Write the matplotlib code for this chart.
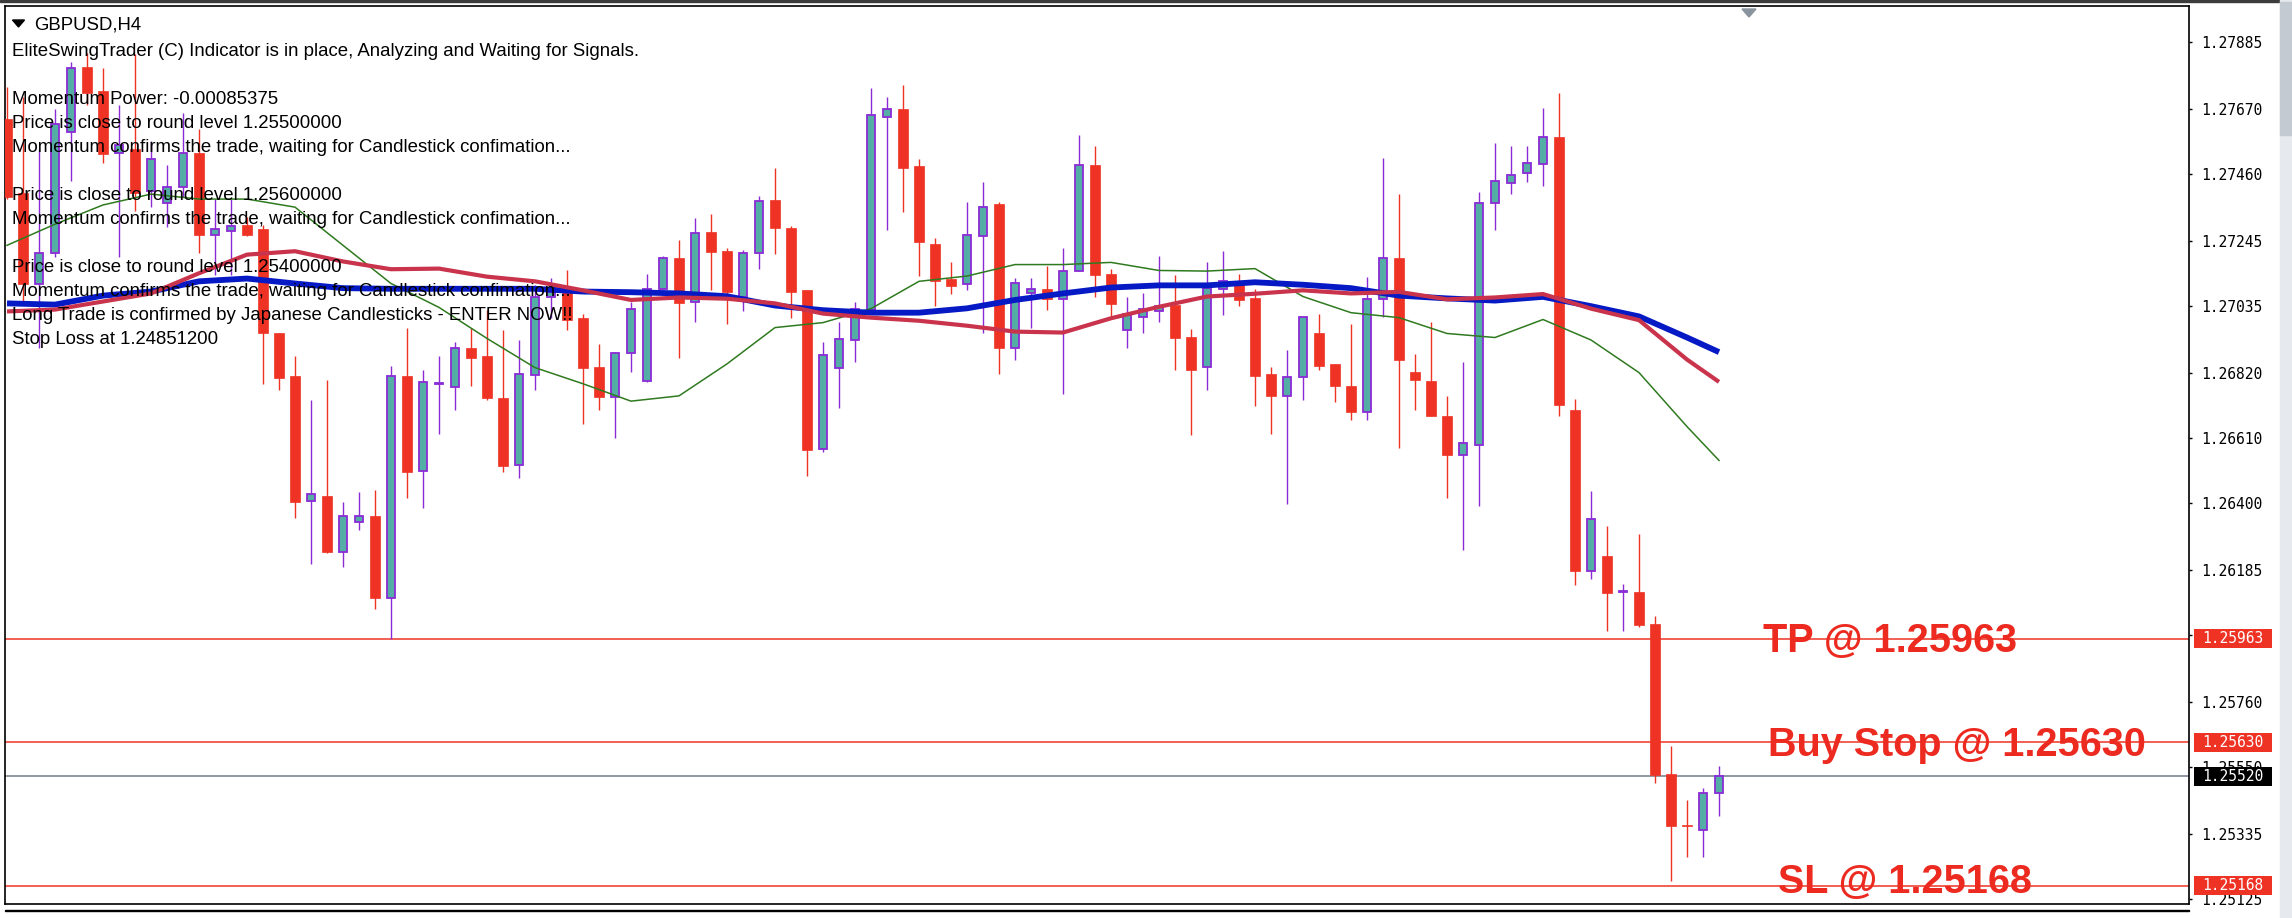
import numpy as np
import matplotlib
matplotlib.use('Agg')
import matplotlib.pyplot as plt
import matplotlib.transforms as mtransforms
from matplotlib.patches import Rectangle, Polygon

W, H = 2292, 918

# GBPUSD H4 candles (oldest first)
opens = [1.27639, 1.27399, 1.27108, 1.27205, 1.27597, 1.27807, 1.27729, 1.27529, 1.27542, 1.27406,
         1.27367, 1.27419, 1.27529, 1.27264, 1.27277, 1.27296, 1.27283, 1.26950, 1.26811, 1.26406,
         1.26423, 1.26244, 1.26341, 1.26358, 1.26095, 1.26811, 1.26503, 1.26785, 1.26774, 1.26899,
         1.26875, 1.26740, 1.26522, 1.26813, 1.27066, 1.27082, 1.26996, 1.26840, 1.26742, 1.26884,
         1.26794, 1.27089, 1.27189, 1.27050, 1.27273, 1.27214, 1.27066, 1.27205, 1.27376, 1.27286,
         1.27086, 1.26574, 1.26837, 1.26927, 1.27024, 1.27643, 1.27671, 1.27486, 1.27234, 1.27121,
         1.27108, 1.27261, 1.27363, 1.26901, 1.27076, 1.27091, 1.27057, 1.27147, 1.27490, 1.27137,
         1.26959, 1.27001, 1.27018, 1.27040, 1.26936, 1.26839, 1.27089, 1.27102, 1.27060, 1.26815,
         1.26746, 1.26807, 1.26950, 1.26848, 1.26777, 1.26694, 1.27057, 1.27189, 1.26822, 1.26795,
         1.26680, 1.26556, 1.26587, 1.27367, 1.27432, 1.27464, 1.27492, 1.27579, 1.26699, 1.26181,
         1.26230, 1.26113, 1.26115, 1.26010, 1.25527, 1.25363, 1.25347, 1.25468]
highs = [1.27742, 1.27710, 1.27542, 1.27671, 1.27820, 1.27852, 1.27801, 1.27684, 1.27846, 1.27568,
         1.27490, 1.27658, 1.27607, 1.27380, 1.27380, 1.27322, 1.27296, 1.26950, 1.26875, 1.26733,
         1.26798, 1.26403, 1.26435, 1.26442, 1.26843, 1.26966, 1.26830, 1.26875, 1.26921, 1.26966,
         1.27024, 1.26959, 1.26927, 1.27102, 1.27125, 1.27151, 1.27009, 1.26914, 1.26888, 1.27050,
         1.27138, 1.27195, 1.27247, 1.27318, 1.27331, 1.27221, 1.27216, 1.27389, 1.27480, 1.27292,
         1.27086, 1.26918, 1.26985, 1.27047, 1.27738, 1.27710, 1.27749, 1.27509, 1.27253, 1.27177,
         1.27370, 1.27434, 1.27370, 1.27125, 1.27125, 1.27164, 1.27221, 1.27588, 1.27550, 1.27156,
         1.27066, 1.27079, 1.27195, 1.27134, 1.26962, 1.27177, 1.27214, 1.27137, 1.27091, 1.26840,
         1.26895, 1.27001, 1.27009, 1.26848, 1.26976, 1.27130, 1.27512, 1.27396, 1.26882, 1.26983,
         1.26746, 1.26856, 1.27402, 1.27562, 1.27550, 1.27550, 1.27675, 1.27722, 1.26737, 1.26441,
         1.26328, 1.26141, 1.26301, 1.26036, 1.25618, 1.25443, 1.25482, 1.25553]
lows = [1.27380, 1.27050, 1.26901, 1.27192, 1.27438, 1.27684, 1.27496, 1.27192, 1.27341, 1.27354,
        1.27289, 1.27387, 1.27205, 1.27134, 1.27134, 1.27260, 1.26785, 1.26765, 1.26351, 1.26203,
        1.26241, 1.26196, 1.26313, 1.26060, 1.25963, 1.26416, 1.26384, 1.26623, 1.26701, 1.26778,
        1.26733, 1.26500, 1.26481, 1.26765, 1.26998, 1.26959, 1.26655, 1.26701, 1.26610, 1.26824,
        1.26791, 1.27089, 1.26869, 1.26985, 1.27086, 1.26979, 1.27018, 1.27154, 1.27203, 1.26998,
        1.26487, 1.26565, 1.26707, 1.26856, 1.27024, 1.27279, 1.27337, 1.27132, 1.27035, 1.27073,
        1.27086, 1.26950, 1.26817, 1.26862, 1.26966, 1.27024, 1.26752, 1.27147, 1.27063, 1.26998,
        1.26901, 1.26947, 1.26985, 1.26830, 1.26619, 1.26765, 1.27005, 1.27037, 1.26714, 1.26623,
        1.26397, 1.26733, 1.26830, 1.26727, 1.26668, 1.26668, 1.27001, 1.26578, 1.26701, 1.26681,
        1.26416, 1.26250, 1.26390, 1.27280, 1.27397, 1.27436, 1.27422, 1.26681, 1.26137, 1.26155,
        1.25988, 1.25988, 1.26002, 1.25499, 1.25182, 1.25261, 1.25261, 1.25391]
closes = [1.27387, 1.27108, 1.27205, 1.27623, 1.27801, 1.27723, 1.27526, 1.27555, 1.27399, 1.27510,
          1.27419, 1.27529, 1.27264, 1.27283, 1.27292, 1.27264, 1.26947, 1.26804, 1.26403, 1.26429,
          1.26244, 1.26358, 1.26358, 1.26095, 1.26811, 1.26500, 1.26791, 1.26789, 1.26899, 1.26869,
          1.26740, 1.26520, 1.26815, 1.27066, 1.27082, 1.26992, 1.26837, 1.26742, 1.26884, 1.27027,
          1.27089, 1.27189, 1.27044, 1.27270, 1.27209, 1.27082, 1.27205, 1.27374, 1.27287, 1.27080,
          1.26571, 1.26879, 1.26930, 1.27027, 1.27652, 1.27671, 1.27480, 1.27242, 1.27115, 1.27099,
          1.27264, 1.27354, 1.26901, 1.27111, 1.27091, 1.27057, 1.27148, 1.27490, 1.27134, 1.27042,
          1.27009, 1.27027, 1.27037, 1.26934, 1.26830, 1.27095, 1.27115, 1.27055, 1.26811, 1.26746,
          1.26807, 1.27001, 1.26843, 1.26778, 1.26694, 1.27059, 1.27189, 1.26862, 1.26798, 1.26681,
          1.26554, 1.26595, 1.27367, 1.27438, 1.27458, 1.27497, 1.27579, 1.26716, 1.26181, 1.26350,
          1.26110, 1.26117, 1.26007, 1.25525, 1.25360, 1.25360, 1.25468, 1.25520]

# moving averages, read every third bar (plus the last one)
ma_idx = list(range(0, 106, 3)) + [107]
ma_blue = [1.27044, 1.27040, 1.27069, 1.27082, 1.27115, 1.27124, 1.27108, 1.27093, 1.27091, 1.27091,
           1.27091, 1.27091, 1.27082, 1.27080, 1.27076, 1.27067, 1.27037, 1.27022, 1.27014, 1.27014,
           1.27028, 1.27055, 1.27076, 1.27095, 1.27102, 1.27102, 1.27112, 1.27104, 1.27093, 1.27069,
           1.27060, 1.27053, 1.27065, 1.27035, 1.27002, 1.26934, 1.26887]
ma_red = [1.27018, 1.27024, 1.27050, 1.27076, 1.27141, 1.27201, 1.27212, 1.27179, 1.27154, 1.27156,
          1.27130, 1.27115, 1.27086, 1.27055, 1.27063, 1.27059, 1.27044, 1.27011, 1.26998, 1.26988,
          1.26972, 1.26953, 1.26950, 1.26996, 1.27033, 1.27066, 1.27075, 1.27086, 1.27076, 1.27081,
          1.27057, 1.27063, 1.27074, 1.27027, 1.26990, 1.26863, 1.26791]
ma_green = [1.27231, 1.27299, 1.27361, 1.27396, 1.27380, 1.27380, 1.27354, 1.27231, 1.27108, 1.27031,
            1.26931, 1.26837, 1.26785, 1.26729, 1.26746, 1.26849, 1.26966, 1.26982, 1.27027, 1.27115,
            1.27132, 1.27169, 1.27169, 1.27176, 1.27150, 1.27148, 1.27156, 1.27066, 1.27014, 1.26998,
            1.26947, 1.26934, 1.26992, 1.26926, 1.26821, 1.26647, 1.26538]

tick_prices = [1.27885, 1.27670, 1.27460, 1.27245, 1.27035, 1.26820, 1.26610, 1.26400,
               1.26185, 1.25975, 1.25760, 1.25550, 1.25335, 1.25125]

tp_price = 1.25963
buy_stop_price = 1.25630
sl_price = 1.25168
bid_price = 1.25520

comment_lines = [
    "EliteSwingTrader (C) Indicator is in place, Analyzing and Waiting for Signals.",
    "",
    "Momentum Power: -0.00085375",
    "Price is close to round level 1.25500000",
    "Momentum confirms the trade, waiting for Candlestick confimation...",
    "",
    "Price is close to round level 1.25600000",
    "Momentum confirms the trade, waiting for Candlestick confimation...",
    "",
    "Price is close to round level 1.25400000",
    "Momentum confirms the trade, waiting for Candlestick confimation...",
    "Long Trade is confirmed by Japanese Candlesticks - ENTER NOW!!",
    "Stop Loss at 1.24851200",
]

RED = '#EE3325'
TEAL = '#54AEA6'
PURPLE = '#8A2BD6'
BLUE = '#0519C4'
CRIMSON = '#C9344C'
GREEN = '#2F7A1F'
GRAY = '#7D8894'


def fx(x):
    return x / W


def fy(y):
    return 1 - y / H


fig = plt.figure(figsize=(W / 100, H / 100), dpi=100)
fig.patch.set_facecolor('white')
ax = fig.add_axes([fx(5), fy(904), fx(2189 - 5), (904 - 6) / H])
ax.set_xlim(-0.125, 136.375)
ax.set_ylim(1.25109, 1.28002)

o = np.array(opens)
hi = np.array(highs)
lo = np.array(lows)
c = np.array(closes)
idx = np.arange(len(o))
up = c >= o
dn = ~up

# level lines
for p in (tp_price, buy_stop_price, sl_price):
    ax.axhline(p, color=RED, lw=1.1, zorder=1)
ax.axhline(bid_price, color=GRAY, lw=1.2, zorder=1)

# candles
ax.vlines(idx[up], lo[up], hi[up], color=PURPLE, lw=1.0, zorder=2)
ax.vlines(idx[dn], lo[dn], hi[dn], color=RED, lw=1.0, zorder=2)
ax.bar(idx[up], c[up] - o[up], bottom=o[up], width=0.53, color=TEAL,
       edgecolor=PURPLE, linewidth=1.3, zorder=3)
ax.bar(idx[dn], o[dn] - c[dn], bottom=c[dn], width=0.6, color=RED,
       edgecolor=RED, linewidth=0.5, zorder=3)

# indicator lines
ax.plot(ma_idx, ma_green, color=GREEN, lw=1.1, zorder=4)
ax.plot(ma_idx, ma_blue, color=BLUE, lw=4.2, zorder=4, solid_capstyle='butt')
ax.plot(ma_idx, ma_red, color=CRIMSON, lw=3.0, zorder=4, solid_capstyle='butt')

# axis look
for s in ax.spines.values():
    s.set_color('black')
    s.set_linewidth(1.2)
ax.set_xticks([])
ax.yaxis.tick_right()
ax.set_yticks(tick_prices)
ax.set_yticklabels(['%.5f' % t for t in tick_prices])
ax.tick_params(axis='y', length=2.5, width=1, pad=6, labelsize=10.5)
for lab in ax.get_yticklabels():
    lab.set_family('DejaVu Sans Mono')

# price boxes on the scale
bt = mtransforms.blended_transform_factory(fig.transFigure, ax.transData)
ppx = (1.28002 - 1.25109) / 898
for p, col in ((tp_price, RED), (buy_stop_price, RED), (bid_price, 'black'), (sl_price, RED)):
    h = 19 * ppx
    ax.add_patch(Rectangle((fx(2194), p - h / 2), fx(78), h, transform=bt,
                           facecolor=col, edgecolor='none', clip_on=False, zorder=5))
    ax.text(fx(2233), p, '%.5f' % p, transform=bt, ha='center', va='center',
            color='white', fontsize=10.5, family='DejaVu Sans Mono', zorder=6, clip_on=False)

# big labels on the lines
def label(xd, price, text, drop_px):
    off = mtransforms.ScaledTranslation(0, -drop_px / 100, fig.dpi_scale_trans)
    ax.text(xd, price, text, transform=ax.transData + off, ha='left', va='baseline',
            color='#EC2A20', fontsize=28.5, fontweight='bold', family='Liberation Sans',
            zorder=7)

label(109.75, tp_price, 'TP @ 1.25963', 12.7)
label(110.06, buy_stop_price, 'Buy Stop @ 1.25630', 14)
label(110.69, sl_price, 'SL @ 1.25168', 7.3)

# comment block + symbol title
fig.text(fx(34), fy(30), 'GBPUSD,H4', fontsize=13.4, family='Liberation Sans', va='baseline')
fig.add_artist(Polygon([(fx(12.5), fy(20)), (fx(24.5), fy(20)), (fx(18.5), fy(27))],
                       closed=True, color='black', transform=fig.transFigure))
for k, line in enumerate(comment_lines):
    if line:
        fig.text(fx(12.5), fy(56 + 24 * k), line, fontsize=13.4,
                 family='Liberation Sans', va='baseline', color='black')

# chart-shift marker, window frame bits, scrollbar
fig.add_artist(Polygon([(fx(1742), fy(9)), (fx(1756), fy(9)), (fx(1749), fy(17))],
                       closed=True, color='#8A949E', transform=fig.transFigure))
fig.add_artist(Rectangle((0, fy(2)), 1, 2 / H, transform=fig.transFigure,
                         color='#3C3C3C'))
fig.add_artist(Rectangle((fx(5), fy(911)), fx(2184), 1.5 / H, transform=fig.transFigure,
                         color='black'))
fig.add_artist(Rectangle((fx(2280), 0), fx(12), 1, transform=fig.transFigure,
                         color='#E6E9ED'))
fig.add_artist(Rectangle((fx(2280), fy(135)), fx(12), 133 / H, transform=fig.transFigure,
                         color='#C3CAD2'))

fig.savefig('out.png', dpi=100, facecolor='white')
